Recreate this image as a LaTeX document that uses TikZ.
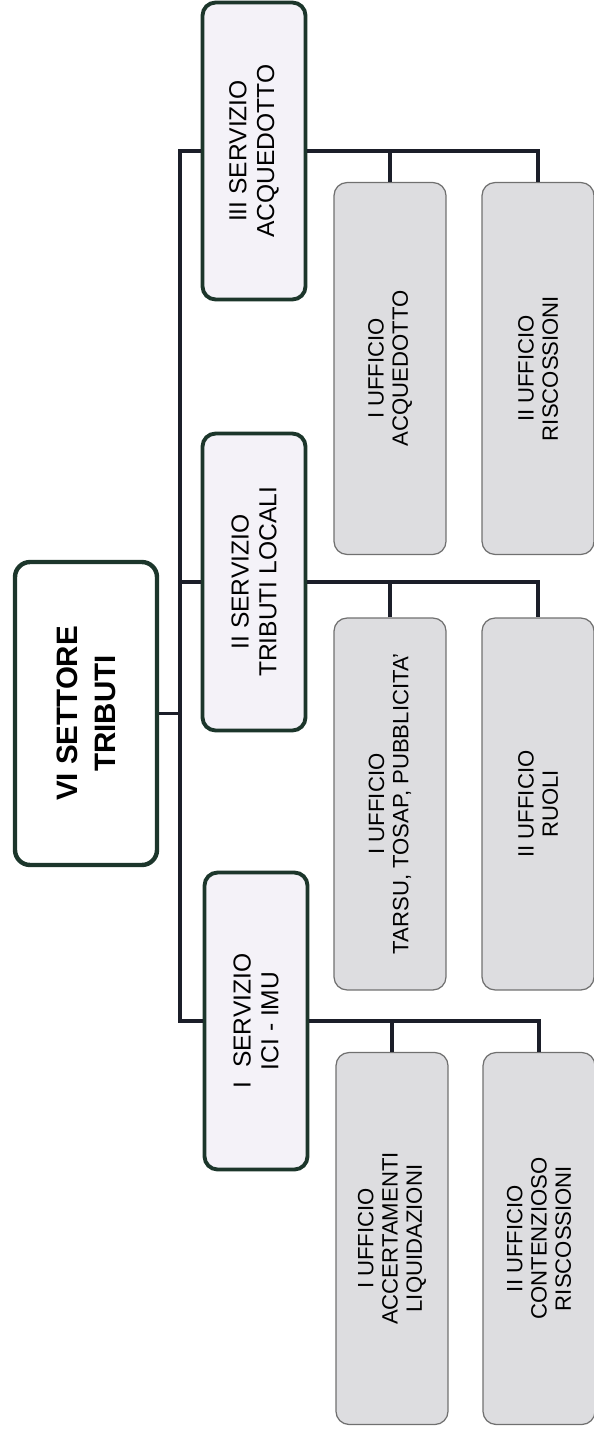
\documentclass[tikz,border=0pt]{standalone}
\usepackage{fontspec}
\setmainfont{Liberation Sans}
\definecolor{rahmengruen}{HTML}{1C362B}
\definecolor{linie}{HTML}{1B1E29}
\definecolor{dienstfill}{HTML}{F4F2F8}
\definecolor{amtfill}{HTML}{DDDDE0}
\definecolor{amtrand}{HTML}{707070}
\begin{document}
\begin{tikzpicture}[x=0.02cm, y=-0.02cm,
		settore/.style={draw=rahmengruen, line width=2.5pt, fill=white, rounded corners=0.3cm, rotate=90, align=center, inner sep=0pt, minimum width=6.06cm, minimum height=2.84cm, font=\fontsize{16.8}{21.5}\selectfont\bfseries},
		servizio/.style={draw=rahmengruen, line width=2.2pt, fill=dienstfill, rounded corners=0.26cm, rotate=90, align=center, inner sep=0pt, minimum width=5.94cm, minimum height=2.06cm, font=\fontsize{14}{15.8}\selectfont},
		ufficio/.style={draw=amtrand, line width=0.7pt, fill=amtfill, rounded corners=0.26cm, rotate=90, align=center, inner sep=0pt, minimum width=7.44cm, minimum height=2.24cm, font=\fontsize{12.6}{13.8}\selectfont},
		conn/.style={draw=linie, line width=2.2pt}]
		
		\useasboundingbox (0,0) rectangle (594,1436);
		
		% Settore
		\node[settore] (root) at (86,713.5) {VI SETTORE\\TRIBUTI};
		
		% Servizi
		\node[servizio] (s3) at (254,151) {III SERVIZIO\\ACQUEDOTTO};
		\node[servizio] (s2) at (254,582) {II SERVIZIO\\TRIBUTI LOCALI};
		\node[servizio] (s1) at (256,1021) {I~ SERVIZIO\\ICI - IMU};
		
		% Uffici
		\node[ufficio] (u31) at (390,368.5) {I UFFICIO\\ACQUEDOTTO};
		\node[ufficio] (u32) at (538,368.5) {II UFFICIO\\RISCOSSIONI};
		\node[ufficio] (u21) at (390,804) {I UFFICIO\\TARSU, TOSAP, PUBBLICITA'};
		\node[ufficio] (u22) at (538,804) {II UFFICIO\\RUOLI};
		\node[ufficio] (u11) at (392,1238.5) {I UFFICIO\\ACCERTAMENTI\\LIQUIDAZIONI};
		\node[ufficio] (u12) at (539,1238.5) {II UFFICIO\\CONTENZIOSO\\RISCOSSIONI};
		
		% Verbindungen (gedreht: .north = links, .south = rechts, .east = oben)
		\coordinate (spine) at (180,713.5);
		\draw[conn] (root.south) -- (spine);
		\draw[conn] (s3.north) -| (spine) |- (s1.north);
		\draw[conn] (s2.north) -- (s2.north -| spine);
		
		\draw[conn] (s3.south) -| (u32.east);
		\draw[conn] (u31.east) -- (u31.east |- s3.south);
		\draw[conn] (s2.south) -| (u22.east);
		\draw[conn] (u21.east) -- (u21.east |- s2.south);
		\draw[conn] (s1.south) -| (u12.east);
		\draw[conn] (u11.east) -- (u11.east |- s1.south);
		
	\end{tikzpicture}
\end{document}
